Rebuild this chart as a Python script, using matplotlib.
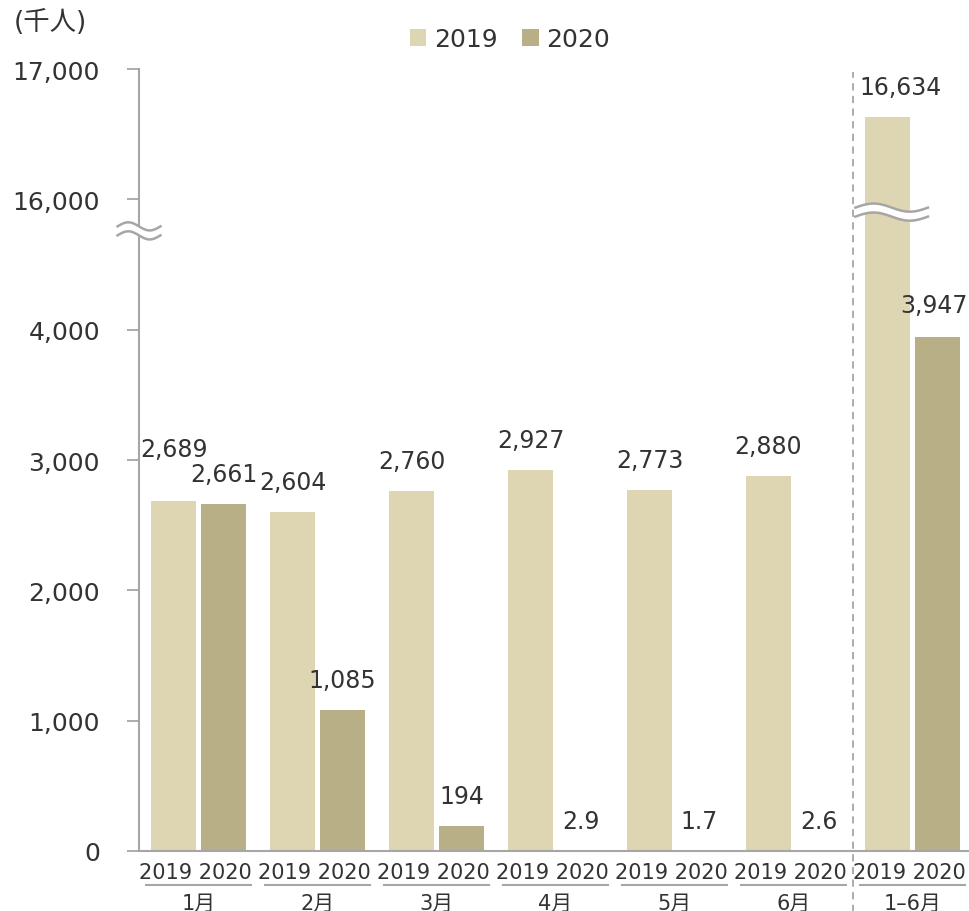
import matplotlib
matplotlib.use('Agg')
import matplotlib.pyplot as plt
import matplotlib.transforms as mtransforms
import numpy as np

plt.rcParams['font.family'] = 'sans-serif'
plt.rcParams['font.sans-serif'] = ['DejaVu Sans']
CJK = ['DejaVu Sans', 'Noto Sans CJK JP']

# ── Data (千人) ─────────────────────────────────────────────────────
months = ['1月', '2月', '3月', '4月', '5月', '6月', '1–6月']
years = ['2019', '2020']
v2019 = [2689, 2604, 2760, 2927, 2773, 2880, 16634]
v2020 = [2661, 1085, 194, 2.9, 1.7, 2.6, 3947]
yticks = [0, 1000, 2000, 3000, 4000, 16000, 17000]

c2019 = '#DED5B2'
c2020 = '#B8AF86'
txt = '#333333'
grey = '#A6A6A6'


# broken axis: 4,000–16,000 squeezed into one "step"
def fwd(v):
    v = np.asarray(v, dtype=float)
    return np.where(v <= 4000, v, np.where(v < 16000, 4000 + (v - 4000) / 12.0, v - 11000))


def inv(u):
    u = np.asarray(u, dtype=float)
    return np.where(u <= 4000, u, np.where(u < 5000, 4000 + (u - 4000) * 12.0, u + 11000))


fig = plt.figure(figsize=(9.69, 9.12), dpi=100)
ax = fig.add_axes([139 / 969, 60 / 912, 833 / 969, 782 / 912])
ax.set_yscale('function', functions=(fwd, inv))

x = np.arange(len(months))
off, w = 0.21, 0.385
b1 = ax.bar(x - off, v2019, w, color=c2019, label=years[0], zorder=2)
b2 = ax.bar(x + off, v2020, w, color=c2020, label=years[1], zorder=2)

ax.set_xlim(-0.5, len(months) - 0.5)
ax.set_ylim(0, 17000)
ax.set_yticks(yticks)
ax.set_yticklabels([f'{t:,}' for t in yticks], fontsize=18, color=txt)

# year pair under each group
ax.set_xticks(x - 0.025)
ax.set_xticklabels([' '.join(years)] * len(x), fontsize=15, color=txt)
ax.tick_params(axis='x', length=0, pad=8)
ax.tick_params(axis='y', length=9, width=1.3, color=grey, pad=19)

for s in ['top', 'right']:
    ax.spines[s].set_visible(False)
for s in ['left', 'bottom']:
    ax.spines[s].set_color(grey)
    ax.spines[s].set_linewidth(1.5)

# ── Value labels (pixel nudges to avoid overlaps) ──────────────────
def fmt(v):
    return f'{v:,.0f}' if v >= 10 else f'{v:.1f}'

nudge19 = {0: (0, 22), 6: (13, 0)}
nudge20 = {6: (-4, 2)}
for i in x:
    dx, dy = nudge19.get(i, (0, 0))
    ax.annotate(fmt(v2019[i]), (i - off, v2019[i]), xytext=(dx, 30 + dy),
                textcoords='offset pixels', ha='center', va='center',
                fontsize=17, color=txt, zorder=5)
    dx, dy = nudge20.get(i, (0, 0))
    ax.annotate(fmt(v2020[i]), (i + off, v2020[i]), xytext=(dx, 30 + dy),
                textcoords='offset pixels', ha='center', va='center',
                fontsize=17, color=txt, zorder=5)

# ── Group labels with underline ────────────────────────────────────
bt = mtransforms.blended_transform_factory(ax.transData, ax.transAxes)
for i, m in enumerate(months):
    ax.plot([i - 0.44, i + 0.44], [-0.0435, -0.0435], color=grey, lw=1.5,
            transform=bt, clip_on=False)
    ax.text(i, -0.066, m, transform=bt, ha='center', va='center',
            fontsize=15, color=txt, family=CJK)

# dashed separator before the half-year total
ax.plot([len(months) - 1.5] * 2, [-0.08, 0.996], transform=bt, color=grey,
        lw=1.3, ls=(0, (4, 3)), clip_on=False, zorder=1)

# ── Break marks ────────────────────────────────────────────────────
def wave(x0, x1, yc, gap=0.0115, amp=0.0052):
    t = np.linspace(0, 1, 60)
    xs = x0 + (x1 - x0) * t
    ys = amp * np.sin(2 * np.pi * t)
    ax.fill_between(xs, yc - gap / 2 + ys, yc + gap / 2 + ys, color='white',
                    transform=bt, clip_on=False, zorder=6, lw=0)
    for sgn in (-1, 1):
        ax.plot(xs, yc + sgn * gap / 2 + ys, color=grey, lw=1.8,
                transform=bt, clip_on=False, zorder=7)

wave(-0.68, -0.32, 0.793)
wave(6 - off - 0.27, 6 - off + 0.34, 0.817)

# ── Legend and unit ─────────────────────────────────────────────────
fig.legend(handles=[b1, b2], loc='center', bbox_to_anchor=(510 / 969, 1 - 40 / 912),
           ncol=2, frameon=False, fontsize=18, handlelength=0.65, handleheight=0.65,
           handletextpad=0.3, columnspacing=1.0, labelcolor=txt)
fig.text(14 / 969, 1 - 23 / 912, '(千人)', ha='left', va='center', fontsize=19,
         color=txt, family=CJK)

fig.savefig('out.png', dpi=100)
